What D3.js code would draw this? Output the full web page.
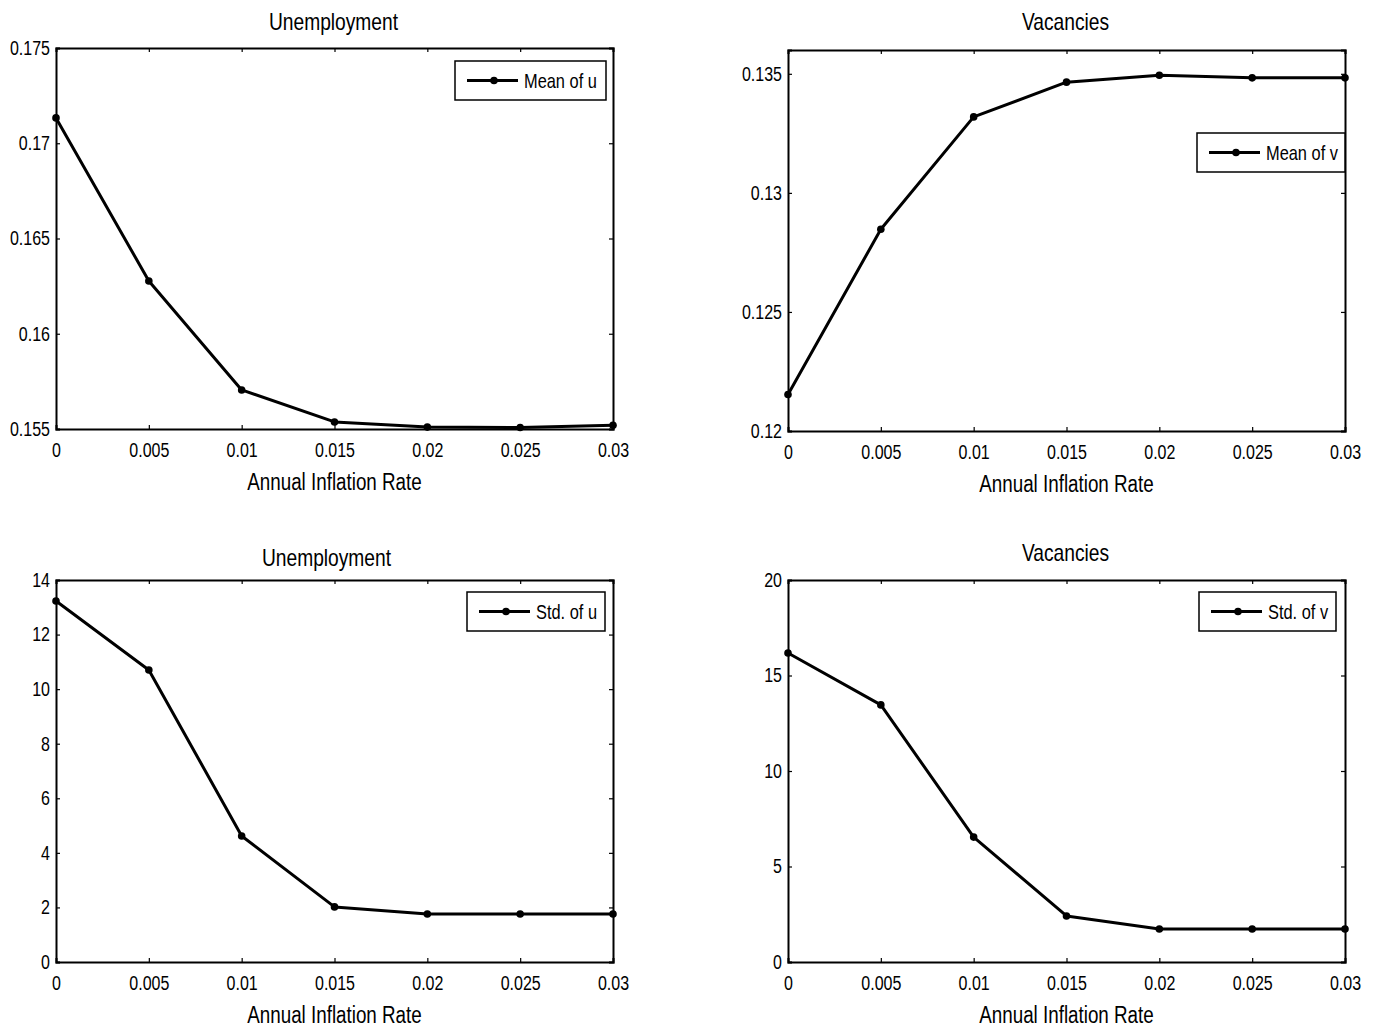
<!DOCTYPE html>
<html>
<head>
<meta charset="utf-8">
<script src="https://cdn.jsdelivr.net/npm/d3@7"></script>
<style>
  body { margin: 0; background: #fff; }
  svg text { font-family: "Liberation Sans", Arial, sans-serif; fill: #000; }
</style>
</head>
<body>
<div id="chart"></div>
<script>
// inflation rates on the x axis
var inflation = [0, 0.005, 0.01, 0.015, 0.02, 0.025, 0.03];
var xTicks = [0, 0.005, 0.01, 0.015, 0.02, 0.025, 0.03];

// series values
var meanU = [0.17133, 0.16277, 0.15705, 0.15537, 0.15510, 0.15508, 0.15520];
var meanV = [0.12153, 0.12847, 0.13319, 0.13465, 0.13494, 0.13483, 0.13483];
var stdU  = [13.23, 10.70, 4.62, 2.02, 1.76, 1.76, 1.76];
var stdV  = [16.18, 13.46, 6.54, 2.41, 1.73, 1.73, 1.73];

// tick labels on y axes
var meanUTicks = [0.155, 0.16, 0.165, 0.17, 0.175];
var meanVTicks = [0.12, 0.125, 0.13, 0.135];
var stdUTicks  = [0, 2, 4, 6, 8, 10, 12, 14];
var stdVTicks  = [0, 5, 10, 15, 20];

var svg = d3.select("#chart")
  .append("svg")
    .attr("width", 1376)
    .attr("height", 1029);

// matlab's fonts come out narrow, so squeeze every text horizontally
var SQUEEZE = 0.8;
function squeeze(sel) {
  sel.each(function() {
    var t = d3.select(this);
    var tx = +t.attr("x") || 0, ty = +t.attr("y") || 0;
    t.attr("x", 0).attr("y", 0)
     .attr("transform", "translate(" + tx + "," + ty + ") scale(" + SQUEEZE + ",1)");
  });
}

/**
 * draw one matlab style panel
 */
function drawPanel(p) {
  var width = p.right - p.left,
      height = p.bottom - p.top;

  var g = svg.append("g")
    .attr("transform", "translate(" + p.left + "," + p.top + ")");

  var x = d3.scaleLinear().domain([0, 0.03]).range([0, width]);
  var y = d3.scaleLinear().domain(p.yDomain).range([height, 0]);

  var fmt = function(d) { return String(+d.toFixed(4)); };

  // axes with inward ticks on every side
  g.append("g")
    .attr("transform", "translate(0," + height + ")")
    .call(d3.axisBottom(x).tickValues(xTicks).tickSize(-4).tickPadding(14).tickFormat(fmt));
  g.append("g")
    .call(d3.axisTop(x).tickValues(xTicks).tickSize(-4).tickFormat(""));
  g.append("g")
    .call(d3.axisLeft(y).tickValues(p.yTicks).tickSize(-4).tickPadding(6).tickFormat(fmt));
  g.append("g")
    .attr("transform", "translate(" + width + ",0)")
    .call(d3.axisRight(y).tickValues(p.yTicks).tickSize(-4).tickFormat(""));

  g.selectAll(".domain").attr("stroke", "#000").attr("stroke-width", 2);
  g.selectAll(".tick line").attr("stroke", "#000").attr("stroke-width", 1.2);
  g.selectAll(".tick text").attr("font-size", 20);

  // the line and its dots
  var pts = inflation.map(function(d, i) { return [d, p.values[i]]; });
  g.append("path")
    .datum(pts)
    .attr("fill", "none")
    .attr("stroke", "#000")
    .attr("stroke-width", 3)
    .attr("stroke-linejoin", "round")
    .attr("d", d3.line()
      .x(function(d) { return x(d[0]); })
      .y(function(d) { return y(d[1]); }));

  g.selectAll(".dot")
    .data(pts)
    .enter()
    .append("circle")
      .attr("cx", function(d) { return x(d[0]); })
      .attr("cy", function(d) { return y(d[1]); })
      .attr("r", 3.8)
      .attr("fill", "#000");

  // title and x label
  g.append("text")
    .attr("x", width / 2 + p.titleShift)
    .attr("y", p.titleY - p.top)
    .attr("text-anchor", "middle")
    .attr("font-size", 24)
    .text(p.title);

  g.append("text")
    .attr("x", width / 2)
    .attr("y", height + 61)
    .attr("text-anchor", "middle")
    .attr("font-size", 23.5)
    .text("Annual Inflation Rate");

  // legend box
  var lg = g.append("g")
    .attr("transform", "translate(" + (p.legend[0] - p.left) + "," + (p.legend[1] - p.top) + ")");
  lg.append("rect")
    .attr("width", p.legend[2])
    .attr("height", 39)
    .attr("fill", "#fff")
    .attr("stroke", "#000")
    .attr("stroke-width", 1.5);
  lg.append("line")
    .attr("x1", 12).attr("x2", 63)
    .attr("y1", 19.5).attr("y2", 19.5)
    .attr("stroke", "#000")
    .attr("stroke-width", 3);
  lg.append("circle")
    .attr("cx", 39).attr("cy", 19.5).attr("r", 3.8).attr("fill", "#000");
  lg.append("text")
    .attr("x", 69)
    .attr("y", 27)
    .attr("font-size", 20.5)
    .text(p.label);

  squeeze(g.selectAll("text"));
}

drawPanel({left: 56, right: 613, top: 48, bottom: 429, yDomain: [0.155, 0.175], yTicks: meanUTicks,
  values: meanU, title: "Unemployment", titleY: 30, titleShift: -1, label: "Mean of u", legend: [455, 61, 151]});
drawPanel({left: 788, right: 1345, top: 50, bottom: 431, yDomain: [0.12, 0.136], yTicks: meanVTicks,
  values: meanV, title: "Vacancies", titleY: 30, titleShift: -1, label: "Mean of v", legend: [1197, 133, 148]});
drawPanel({left: 56, right: 613, top: 580, bottom: 962, yDomain: [0, 14], yTicks: stdUTicks,
  values: stdU, title: "Unemployment", titleY: 566, titleShift: -8, label: "Std. of u", legend: [467, 592, 138]});
drawPanel({left: 788, right: 1345, top: 580, bottom: 962, yDomain: [0, 20], yTicks: stdVTicks,
  values: stdV, title: "Vacancies", titleY: 561, titleShift: -1, label: "Std. of v", legend: [1199, 592, 137]});
</script>
</body>
</html>
